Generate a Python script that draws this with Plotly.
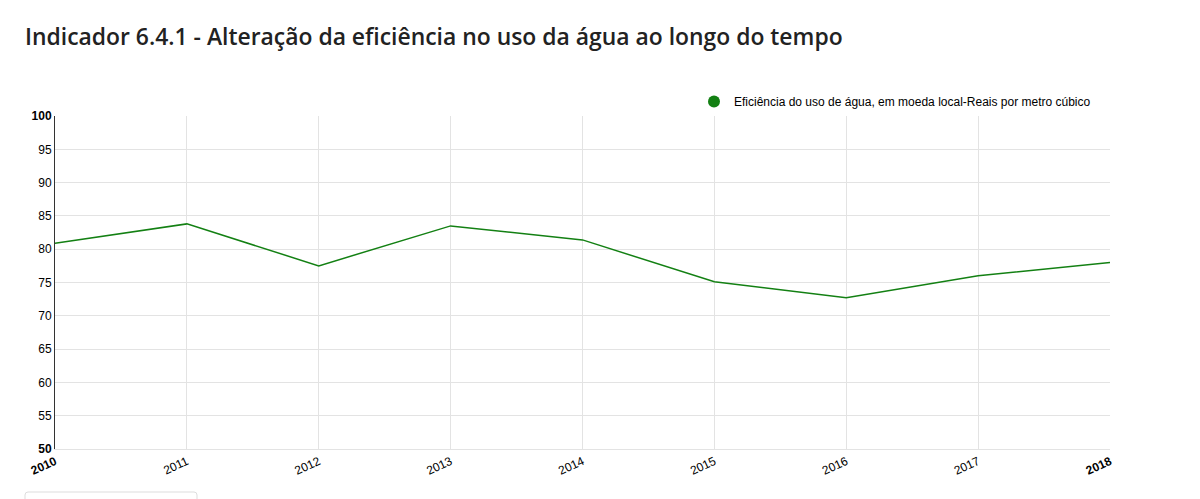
import plotly.graph_objects as go

years = [2010, 2011, 2012, 2013, 2014, 2015, 2016, 2017, 2018]
values = [80.9, 83.8, 77.5, 83.5, 81.4, 75.1, 72.7, 76.0, 78.0]
series_name = "Eficiência do uso de água, em moeda local-Reais por metro cúbico"
title_text = "Indicador 6.4.1 - Alteração da eficiência no uso da água ao longo do tempo"
y_ticks = [50, 55, 60, 65, 70, 75, 80, 85, 90, 95, 100]

green = "#138013"

x_ticktext = [f"<b>{y}</b>" if y in (years[0], years[-1]) else str(y) for y in years]
y_ticktext = [f"<b>{v}</b>" if v in (y_ticks[0], y_ticks[-1]) else str(v) for v in y_ticks]

# page body has an 8px offset
L, T = 47, 108
W, H = 1200, 499
PR, PB = 1102, 441
pw, ph = PR - L, PB - T

fig = go.Figure()
fig.add_trace(go.Scatter(x=years, y=values, mode="lines",
                         line=dict(color=green, width=1.5), showlegend=False,
                         hoverinfo="x+y"))
fig.add_trace(go.Scatter(x=[None], y=[None], mode="markers", name=series_name,
                         marker=dict(color=green, size=12, symbol="circle")))

fig.update_layout(
    width=W, height=H,
    margin=dict(l=L, r=W - PR, t=T, b=H - PB),
    paper_bgcolor="white", plot_bgcolor="white",
    font=dict(family="Liberation Sans, Arial, sans-serif", size=12, color="#000"),
    title=dict(text=title_text, x=17/W, xanchor="left", y=1 - 29/H, yanchor="middle",
               font=dict(family="Open Sans, Noto Sans, sans-serif", size=22.9, weight=600, color="#222")),
    legend=dict(orientation="h", x=(1088 - L)/pw, xanchor="right", y=1.0, yanchor="bottom",
                font=dict(size=12, color="#000"), bgcolor="rgba(0,0,0,0)",
                itemwidth=30, tracegroupgap=0),
    xaxis=dict(range=[years[0], years[-1]], tickmode="array", tickvals=years, ticktext=x_ticktext,
               tickangle=-25, showgrid=True, gridcolor="#e3e3e3", gridwidth=1,
               showline=True, linecolor="#e3e3e3", linewidth=1, zeroline=False,
               ticks="", tickfont=dict(size=12, color="#000")),
    yaxis=dict(range=[y_ticks[0], y_ticks[-1]], tickmode="array", tickvals=y_ticks, ticktext=y_ticktext,
               showgrid=True, gridcolor="#e3e3e3", gridwidth=1,
               showline=True, linecolor="#333", linewidth=1, zeroline=False,
               ticks="", tickfont=dict(size=12, color="#000")),
    shapes=[dict(type="path", xref="paper", yref="paper",
                 path=(f"M {(17-L)/pw},{(PB-510)/ph} L {(17-L)/pw},{(PB-487)/ph} "
                       f"Q {(17-L)/pw},{(PB-484)/ph} {(20-L)/pw},{(PB-484)/ph} "
                       f"L {(186-L)/pw},{(PB-484)/ph} "
                       f"Q {(189-L)/pw},{(PB-484)/ph} {(189-L)/pw},{(PB-487)/ph} "
                       f"L {(189-L)/pw},{(PB-510)/ph}"),
                 line=dict(color="#dddddd", width=1), layer="above")],
)

fig.write_html("out.html")
